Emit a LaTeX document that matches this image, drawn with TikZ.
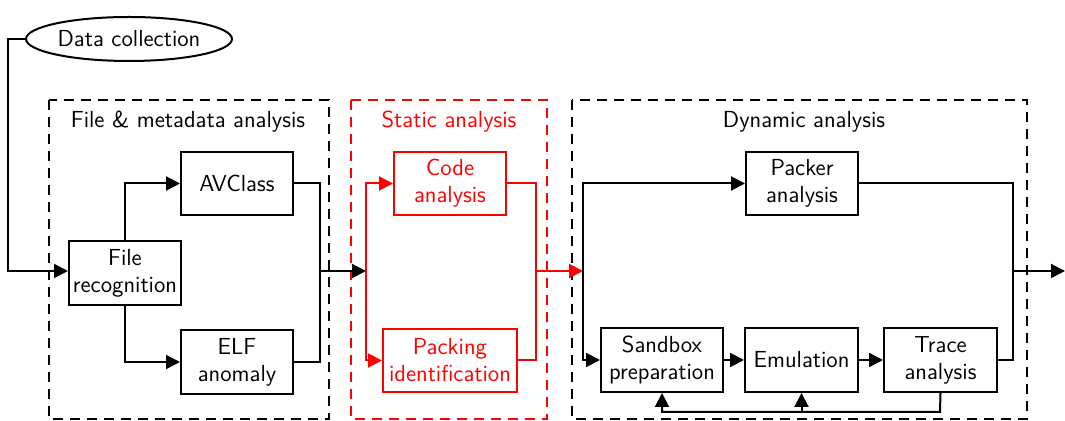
\documentclass[tikz,border=0pt]{standalone}
\usetikzlibrary{arrows.meta,shapes.geometric}
\begin{document}
\begin{tikzpicture}[x=0.5pt,y=-0.5pt,
  font=\sffamily\fontsize{11.6}{13.5}\selectfont,
  every path/.style={line width=1pt},
  box/.style={draw,rectangle,line width=1pt,align=center,inner sep=0pt},
  grp/.style={draw,dash pattern=on 5pt off 3.5pt,line width=0.9pt},
  arr/.style={-{Triangle[length=7pt,width=7pt]}},
  red/.style={draw=red,text=red}
]
\useasboundingbox (0,0) rectangle (1065,421);
% groups
\draw[grp] (49,100) rectangle (329,419);
\draw[grp,draw=red] (351,100) rectangle (547,419);
\draw[grp] (572,100) rectangle (1027,419);
\node (t1) at (188,122) {File \& metadata analysis};
\node[text=red] (t2) at (449,122) {Static analysis};
\node (t3) at (804,122) {Dynamic analysis};
% nodes
\node[draw,ellipse,line width=1pt,minimum width=103pt,minimum height=22pt,inner sep=0pt] (data) at (129,39) {Data collection};
\node[box,minimum width=56pt,minimum height=32pt] (fr) at (125,273) {File\\recognition};
\node[box,minimum width=56pt,minimum height=31.5pt] (av) at (237,183.5) {AVClass};
\node[box,minimum width=56pt,minimum height=32pt] (elf) at (237,362) {ELF\\anomaly};
\node[box,red,minimum width=56pt,minimum height=31.5pt] (code) at (450,183.5) {Code\\analysis};
\node[box,red,minimum width=67pt,minimum height=31.5pt] (pack) at (450,360.5) {Packing\\identification};
\node[box,minimum width=56pt,minimum height=31.5pt] (pa) at (802,183.5) {Packer\\analysis};
\node[box,minimum width=61pt,minimum height=32pt] (sb) at (662,360) {Sandbox\\preparation};
\node[box,minimum width=56.5pt,minimum height=32pt] (emu) at (801.5,360) {Emulation};
\node[box,minimum width=56.5pt,minimum height=32pt] (tr) at (940.5,360) {Trace\\analysis};
% coordinates
\coordinate (in) at (8,271);
\coordinate (j1) at (320,271);
\coordinate (j2) at (366,271);
\coordinate (j3) at (536,271);
\coordinate (j4) at (583,271);
\coordinate (j5) at (1013,271);
\coordinate (out) at (1065,271);
\coordinate (fb) at (940,412);
% connectors
\draw[arr] (data.west) -| (in) -- (fr.west |- in);
\draw[arr] (fr.north) |- (av.west);
\draw[arr] (fr.south) |- (elf.west);
\draw (av.east) -| (j1);
\draw (elf.east) -| (j1);
\draw[arr] (j1) -- (j2);
\draw[red,arr] (j2) |- (code.west);
\draw[red,arr] (j2) |- (pack.west);
\draw[red] (code.east) -| (j3);
\draw[red] (pack.east) -| (j3);
\draw[red,arr] (j3) -- (j4);
\draw[arr] (j4) |- (pa.west);
\draw[arr] (j4) |- (sb.west);
\draw[arr] (sb.east) -- (emu.west);
\draw[arr] (emu.east) -- (tr.west);
\draw (pa.east) -| (j5);
\draw (tr.east) -| (j5);
\draw[arr] (j5) -- (out);
\draw[arr] (tr.south) -- (fb) -| (sb.south);
\draw[arr] (emu.south |- fb) -- (emu.south);
\end{tikzpicture}
\end{document}
